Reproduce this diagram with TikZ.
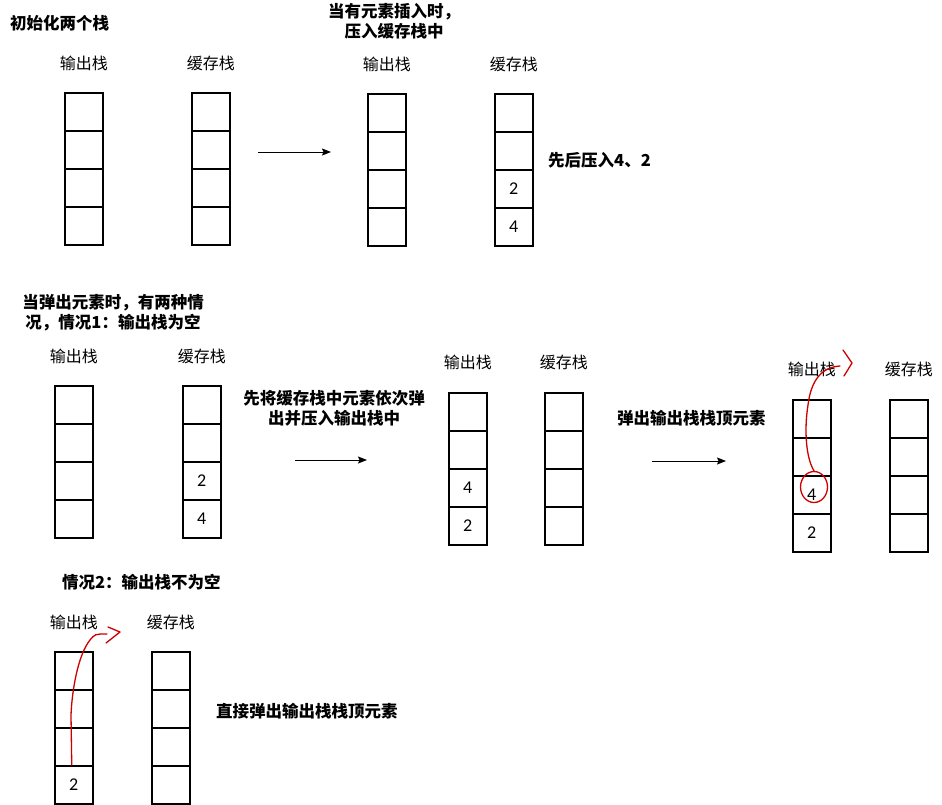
\documentclass[tikz,border=0pt]{standalone}
\usepackage{fontspec}
\setmainfont{Noto Sans CJK SC}
\newfontfamily\numfont{Carlito}
\usetikzlibrary{arrows.meta,calc,shapes.geometric}
\tikzset{
  cell/.style={draw, line width=1.5pt, minimum width=38pt, minimum height=38pt, inner sep=0pt, anchor=north west},
  lab/.style={font=\fontsize{16}{18}\selectfont, inner sep=0pt},
  ttl/.style={font=\fontsize{16.5}{20}\selectfont\bfseries, inner sep=0pt, align=center},
  num/.style={font=\numfont\fontsize{18}{18}\selectfont, inner sep=0pt},
  arr/.style={line width=1pt, -{Stealth[length=9pt,width=7pt,inset=1.5pt]}},
  redline/.style={draw=red!80!black, line width=1.3pt, line cap=round, line join=round},
}
\newcommand\mkstack[3]{%
  \foreach \i in {0,1,2,3}{\node[cell] (#1\i) at (#2,{#3+38*\i}) {};}}
\begin{document}
\begin{tikzpicture}[x=1pt,y=-1pt]
\useasboundingbox[fill=white] (0,0) rectangle (942,804);
% row 1
\node[ttl, anchor=west] (t1) at (10,23) {初始化两个栈};
\node[ttl] (t2) at (394,21.5) {当有元素插入时，\\压入缓存栈中};
\mkstack{A}{64}{92}
\mkstack{B}{191}{92}
\mkstack{C}{367}{93}
\mkstack{D}{494}{93}
\node[lab] (lA) at ($(A0.north)+(0,-29)$) {输出栈};
\node[lab] (lB) at ($(B0.north)+(0,-29)$) {缓存栈};
\node[lab] (lC) at ($(C0.north)+(0,-29)$) {输出栈};
\node[lab] (lD) at ($(D0.north)+(0,-29)$) {缓存栈};
\node[num] (nD2) at (D2.center) {2};
\node[num] (nD3) at (D3.center) {4};
\node[ttl, anchor=west] (t3) at (548,160) {先后压入4、2};
\coordinate (a1s) at (258,152); \coordinate (a1e) at (331,152);
\draw[arr] (a1s) -- (a1e);
% row 2
\node[ttl] (t4) at (113,313) {当弹出元素时，有两种情\\况，情况1：输出栈为空};
\mkstack{E}{54}{385}
\mkstack{F}{182}{385}
\mkstack{G}{448}{392}
\mkstack{H}{544}{392}
\mkstack{I}{792}{399}
\mkstack{J}{889}{399}
\node[lab] (lE) at ($(E0.north)+(0,-29)$) {输出栈};
\node[lab] (lF) at ($(F0.north)+(0,-29)$) {缓存栈};
\node[lab] (lG) at ($(G0.north)+(0,-30)$) {输出栈};
\node[lab] (lH) at ($(H0.north)+(0,-30)$) {缓存栈};
\node[lab] (lI) at ($(I0.north)+(0,-30)$) {输出栈};
\node[lab] (lJ) at ($(J0.north)+(0,-30)$) {缓存栈};
\node[num] (nF2) at (F2.center) {2};
\node[num] (nF3) at (F3.center) {4};
\node[num] (nG2) at (G2.center) {4};
\node[num] (nG3) at (G3.center) {2};
\node[num] (nI2) at (I2.center) {4};
\node[num] (nI3) at (I3.center) {2};
\node[ttl] (t5) at (334,408) {先将缓存栈中元素依次弹\\出并压入输出栈中};
\node[ttl, anchor=west] (t6) at (617,418) {弹出输出栈栈顶元素};
\coordinate (a2s) at (295,460); \coordinate (a2e) at (367,460);
\draw[arr] (a2s) -- (a2e);
\coordinate (a3s) at (652,461); \coordinate (a3e) at (726,461);
\draw[arr] (a3s) -- (a3e);
\node[draw=red!80!black, line width=1.3pt, ellipse, minimum width=27pt, minimum height=31pt, inner sep=0pt] (circ) at (814,487) {};
\coordinate (r1e) at (840,366);
\draw[redline] (circ.north) .. controls (806,458) and (804,430) .. (808,405) .. controls (811,380) and (822,367) .. (r1e);
\draw[redline] (843,350) -- (852,363) -- (844,376);
% row 3
\node[ttl, anchor=west] (t7) at (62,582) {情况2：输出栈不为空};
\mkstack{K}{54}{651}
\mkstack{L}{151}{651}
\node[lab] (lK) at ($(K0.north)+(0,-29)$) {输出栈};
\node[lab] (lL) at ($(L0.north)+(0,-29)$) {缓存栈};
\node[num] (nK3) at (K3.center) {2};
\node[ttl, anchor=west] (t8) at (216,711) {直接弹出输出栈栈顶元素};
\coordinate (r2s) at ($(K3.north)+(-2,0)$);
\coordinate (r2e) at (107,634);
\draw[redline] (r2s) -- (71,715) .. controls (72,690) and (78,655) .. (90,640) .. controls (95,634) .. (r2e);
\draw[redline] (108,627) -- (120,632) -- (106,643);
\end{tikzpicture}
\end{document}
